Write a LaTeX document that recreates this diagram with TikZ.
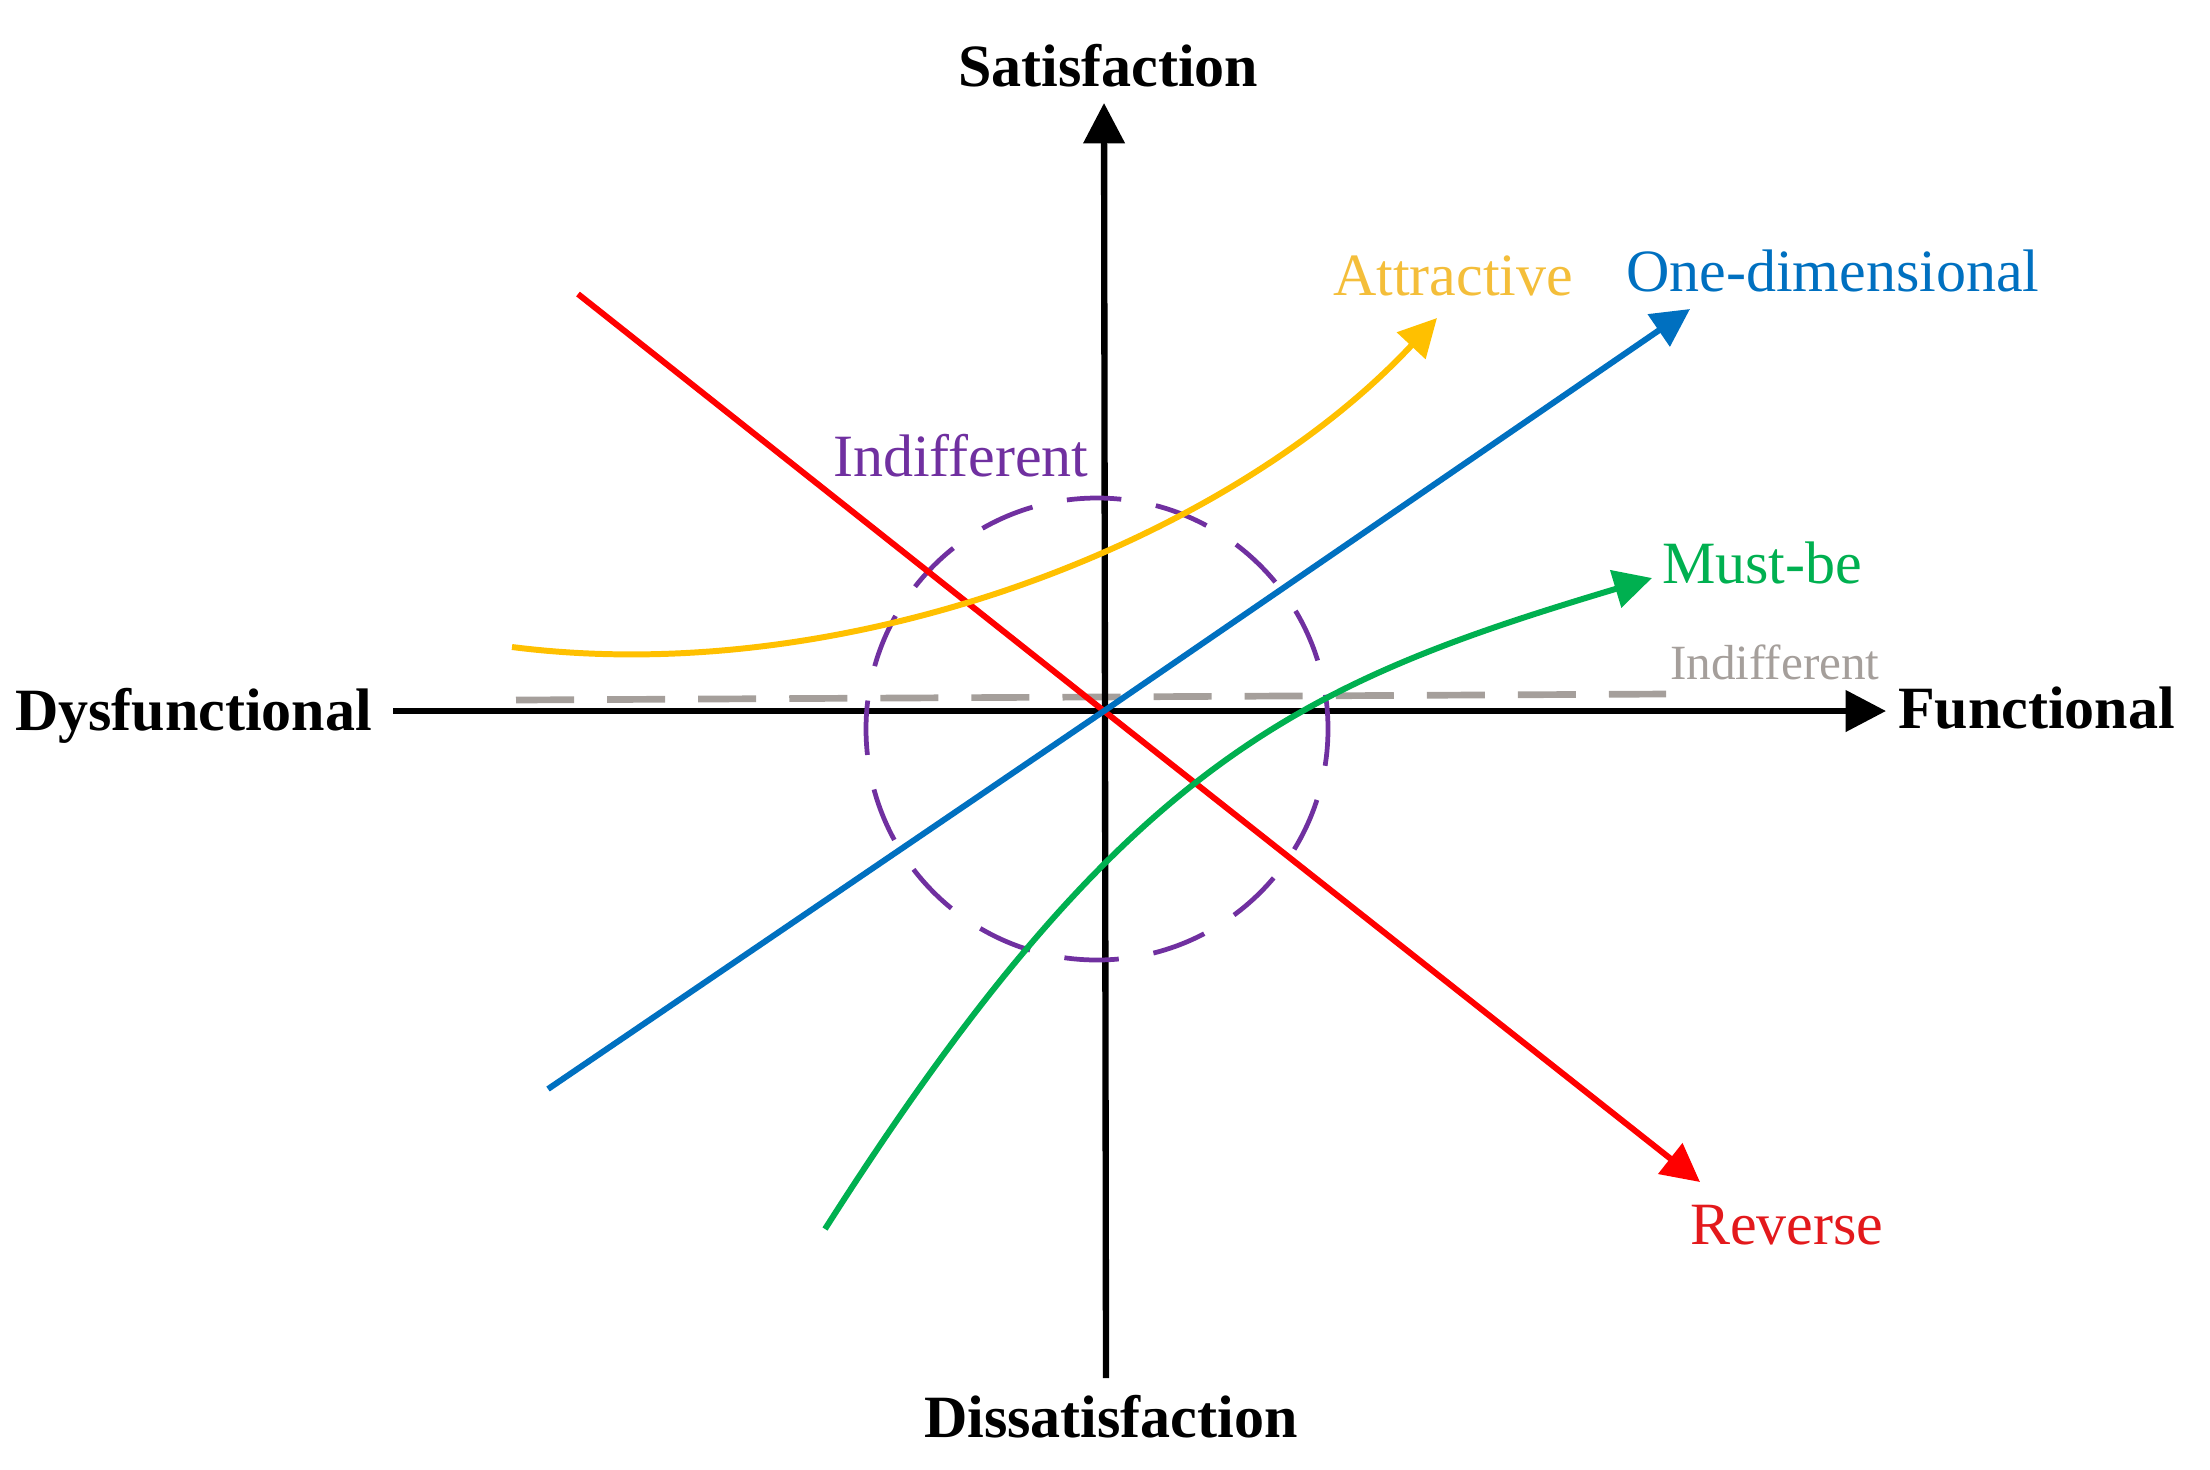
\documentclass[tikz,border=0pt]{standalone}
\usepackage{fontspec}
\setmainfont{Liberation Serif}
\usetikzlibrary{arrows.meta}
\definecolor{kred}{HTML}{FF0000}
\definecolor{kredtxt}{HTML}{E3191C}
\definecolor{kblue}{HTML}{0070C0}
\definecolor{kyellow}{HTML}{FFC000}
\definecolor{kyellowtxt}{HTML}{F4BE3A}
\definecolor{kgreen}{HTML}{00B050}
\definecolor{kpurple}{HTML}{7030A0}
\definecolor{kgray}{HTML}{A59F9B}
\begin{document}
\begin{tikzpicture}[x=0.01cm,y=-0.01cm,
  lbl/.style={anchor=base west,inner sep=0pt,outer sep=0pt,font=\fontsize{17.07}{20}\selectfont},
  axlbl/.style={lbl,font=\fontsize{17.07}{20}\selectfont\bfseries},
  axis/.style={line width=1.8pt,black,-{Triangle[length=11.5pt,width=11.5pt]}},
  curve/.style={line width=1.7pt,-{Triangle[length=10.8pt,width=10.8pt]}}
]
\useasboundingbox (0,0) rectangle (2210,1469);

% coordinates
\coordinate (xl) at (393,711);
\coordinate (xr) at (1886,711);
\coordinate (yb) at (1106,1378);
\coordinate (yt) at (1104,103);
\coordinate (o) at (1104,711);
\coordinate (rs) at (578,294);
\coordinate (re) at (1700,1182);
\coordinate (bs) at (548,1089);
\coordinate (be) at (1690,309);
\coordinate (ys) at (512,647);
\coordinate (ye) at (1437,318);
\coordinate (ms) at (825,1229);
\coordinate (me) at (1652,578);
\coordinate (gs) at (516,700);
\coordinate (ge) at (1666,694);
\coordinate (cc) at (1097,729);

% indifferent dashed line (gray)
\draw[kgray,line width=1.9pt,dash pattern=on 16.5pt off 9.4pt] (gs) -- (ge);

% axes
\draw[axis] (xl) -- (xr);
\draw[axis] (yb) -- (yt);

% indifferent circle
\draw[kpurple,line width=1.35pt,dash pattern=on 15.5pt off 10pt,dash phase=5pt] (cc) circle[radius=231];

% reverse
\draw[curve,kred] (rs) -- (o) -- (re);
% one-dimensional
\draw[curve,kblue] (bs) -- (o) -- (be);
% attractive
\draw[curve,kyellow] (ys) .. controls (850,690) and (1230,540) .. (ye);
% must-be
\draw[curve,kgreen] (ms) .. controls (1125,758) and (1302,683) .. (me);

% labels
\node[axlbl] (sat) at (958,86) {Satisfaction};
\node[axlbl] (dis) at (924,1437) {Dissatisfaction};
\node[axlbl] (dys) at (15,730) {Dysfunctional};
\node[axlbl] (fun) at (1898,728) {Functional};
\node[lbl,text=kyellowtxt] (att) at (1333,295) {Attractive};
\node[lbl,text=kblue] (one) at (1626,291) {One-dimensional};
\node[lbl,text=kgreen] (must) at (1662,583) {Must-be};
\node[lbl,text=kgray,font=\fontsize{14}{16}\selectfont] (ind2) at (1670,679) {Indifferent};
\node[lbl,text=kpurple] (ind1) at (833,476) {Indifferent};
\node[lbl,text=kredtxt] (rev) at (1690,1244) {Reverse};
\end{tikzpicture}
\end{document}
